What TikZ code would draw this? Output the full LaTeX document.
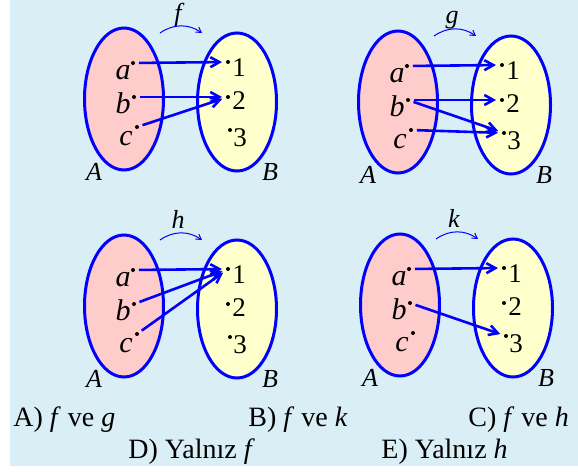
\documentclass[tikz,border=0pt]{standalone}
\usepackage{fontspec}
\setmainfont{Liberation Serif}
\usetikzlibrary{arrows.meta,shapes.geometric}
\definecolor{bgblue}{HTML}{DAEEF5}
\definecolor{pinkA}{HTML}{FFCCCC}
\definecolor{yellowB}{HTML}{FFFFCC}
\begin{document}
\begin{tikzpicture}[x=0.5pt, y=-0.5pt,
  font=\fontsize{12}{14}\selectfont,
  setA/.style={ellipse, draw=blue, line width=1.5pt, fill=pinkA, minimum width=39.5pt, minimum height=71pt, inner sep=0pt},
  setB/.style={setA, fill=yellowB, minimum height=69pt},
  elemdot/.style={circle, fill=black, inner sep=0pt, minimum size=2pt},
  elt/.style={font=\fontsize{15}{17}\selectfont\itshape, anchor=base east, inner sep=0pt},
  num/.style={font=\fontsize{13.5}{15}\selectfont, anchor=base west, inner sep=0pt},
  setname/.style={font=\fontsize{13}{15}\selectfont\itshape, anchor=base, inner sep=0pt},
  arr/.style={-{Straight Barb[length=4.5pt, width=5pt]}, blue, line width=1.3pt, shorten <=1.7pt, shorten >=1.8pt},
  maparrow/.style={-{Straight Barb[length=2.5pt, width=3pt]}, blue, line width=0.5pt},
  ans/.style={font=\fontsize{14}{16}\selectfont, anchor=base west, inner sep=0pt}
]
\useasboundingbox (0,0) rectangle (578,471);
\fill[bgblue] (10,0) rectangle (578,466);
% the four diagrams f, g, h, k
\foreach \fn/\dx/\dy in {f/0/0, g/274/3, h/0/207, k/276/206} {
  \begin{scope}[shift={(\dx,\dy)}]
    \node[setA] (\fn-A) at (124,99) {};
    \node[setB] (\fn-B) at (237,102) {};
    \node[setname] (\fn-lA) at (94,180) {A};
    \node[setname] (\fn-lB) at (270,180) {B};
    % elements
    \node[elemdot] (\fn-a) at (133,63) {};
    \node[elemdot] (\fn-b) at (134,97) {};
    \node[elemdot] (\fn-c) at (137,127) {};
    \node[elemdot] (\fn-1) at (228,62) {};
    \node[elemdot] (\fn-2) at (228,97) {};
    \node[elemdot] (\fn-3) at (230,130) {};
    \node[elt] (\fn-la) at (131,79) {a};
    \node[elt] (\fn-lb) at (131,113) {b};
    \node[elt] (\fn-lc) at (133,145) {c};
    \node[num] (\fn-l1) at (232,76) {1};
    \node[num] (\fn-l2) at (232,109) {2};
    \node[num] (\fn-l3) at (233,146) {3};
    % function name and curved arrow
    \node[setname] (\fn-name) at (178,21) {\fn};
    \coordinate (\fn-s) at (160,33);
    \coordinate (\fn-e) at (202,33);
    \draw[maparrow] (\fn-s) to[bend left=35] (\fn-e);
  \end{scope}
}
% mappings
\foreach \s/\t in {f-a/f-1, f-b/f-2, f-c/f-2, g-a/g-1, g-b/g-2, g-b/g-3, g-c/g-3, h-a/h-1, h-b/h-1, h-c/h-1, k-a/k-1, k-b/k-3}
  \draw[arr] (\s) -- (\t);
% answer choices
\node[ans] (optA) at (13,426) {A) \textit{f} ve \textit{g}};
\node[ans] (optB) at (248,426) {B) \textit{f} ve \textit{k}};
\node[ans] (optC) at (468,426) {C) \textit{f} ve \textit{h}};
\node[ans] (optD) at (128,458) {D) Yalnız \textit{f}};
\node[ans] (optE) at (381,458) {E) Yalnız \textit{h}};
\end{tikzpicture}
\end{document}
